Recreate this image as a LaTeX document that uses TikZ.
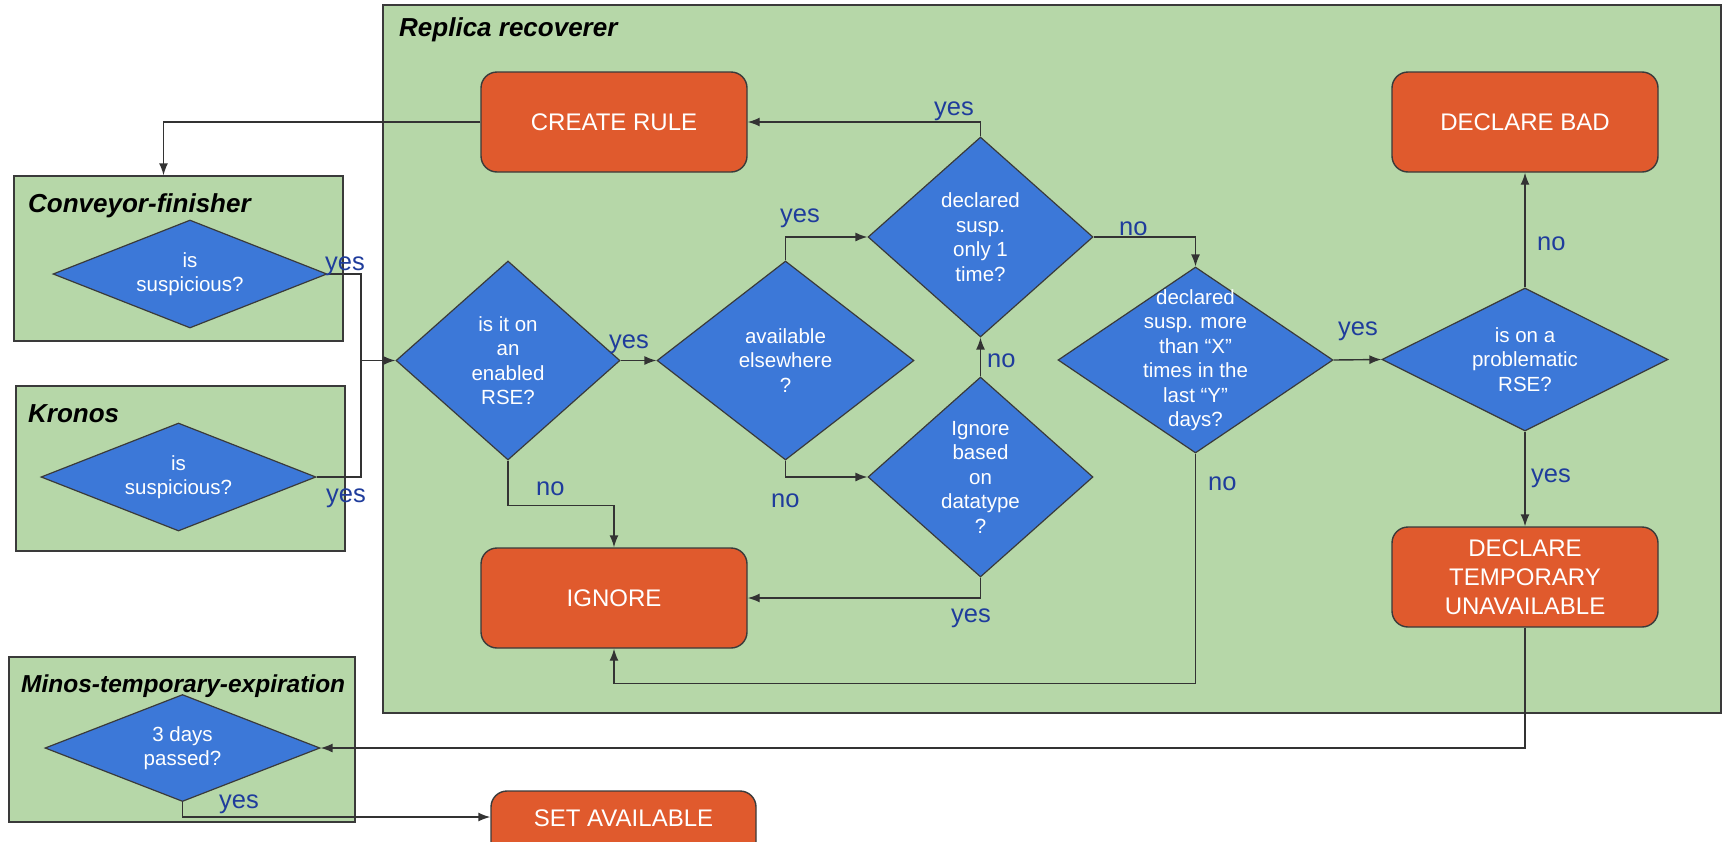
\documentclass[tikz,border=0pt]{standalone}
\usepackage{fontspec}
\setmainfont{Liberation Sans}
\usetikzlibrary{shapes.geometric,arrows.meta}
\definecolor{grn}{HTML}{B6D7A8}
\definecolor{blu}{HTML}{3C78D8}
\definecolor{org}{HTML}{E05A2D}
\definecolor{bordc}{HTML}{3A3A3A}
\definecolor{linec}{HTML}{333333}
\definecolor{labc}{HTML}{1F3C9C}
\begin{document}
\begin{tikzpicture}[x=1pt,y=-1pt,
 grp/.style={draw=bordc, fill=grn, line width=1.4pt, inner sep=0pt},
 act/.style={draw=bordc, fill=org, line width=1.4pt, rounded corners=16pt, text=white,
   font=\fontsize{24}{29}\selectfont, align=center, inner sep=0pt,
   minimum width=266pt, minimum height=100pt},
 dia/.style={diamond, draw=bordc, fill=blu, line width=1.2pt, inner sep=0pt},
 dtext/.style={text=white, font=\fontsize{20.5}{24.5}\selectfont, align=center, inner sep=0pt},
 lab/.style={text=labc, font=\fontsize{25.5}{30}\selectfont, inner sep=0pt, anchor=base west},
 ttl/.style={font=\fontsize{26}{30}\selectfont\bfseries\itshape, inner sep=0pt, anchor=base west},
 conn/.style={draw=linec, line width=1.4pt},
 arr/.style={conn, -{Latex[length=12pt,width=9pt]}},
]
\useasboundingbox[fill=white] (0,0) rectangle (1723,841);

% groups
\node[grp, minimum width=1338pt, minimum height=708pt] (rep) at (1052,359) {};
\node[grp, minimum width=329pt, minimum height=165pt] (conv) at (178.5,258.5) {};
\node[grp, minimum width=329pt, minimum height=165pt] (kron) at (180.5,468.5) {};
\node[grp, minimum width=346pt, minimum height=165pt] (minos) at (182,739.5) {};

\node[ttl] (rep-t) at (399,36) {Replica recoverer};
\node[ttl] (conv-t) at (28,212) {Conveyor-finisher};
\node[ttl] (kron-t) at (28,422) {Kronos};
\node[ttl, font=\fontsize{24.5}{30}\selectfont\bfseries\itshape] (minos-t) at (21,692) {Minos-temporary-expiration};

% action boxes
\node[act] (create) at (614,122) {CREATE RULE};
\node[act] (ignore) at (614,598) {IGNORE};
\node[act] (bad) at (1525,122) {DECLARE BAD};
\node[act] (temp) at (1525,577) {DECLARE\\TEMPORARY\\UNAVAILABLE};
\node[act, minimum width=265pt, minimum height=70pt, text depth=16pt] (setav) at (623.5,826) {SET AVAILABLE};

% decisions
\node[dia, minimum width=274pt, minimum height=108pt] (convd) at (190,274) {};
\node[dtext] (convd-t) at (convd) {is\\suspicious?};
\node[dia, minimum width=275pt, minimum height=108pt] (krond) at (178.5,477) {};
\node[dtext] (krond-t) at (krond) {is\\suspicious?};
\node[dia, minimum width=275pt, minimum height=107pt] (minosd) at (182.5,748) {};
\node[dtext] (minosd-t) at (minosd) {3 days\\passed?};

\node[dia, minimum width=224pt, minimum height=199pt] (rse) at (508,360.5) {};
\node[dtext] (rse-t) at (rse) {is it on\\an\\enabled\\RSE?};
\node[dia, minimum width=257pt, minimum height=199pt] (avail) at (785.5,360.5) {};
\node[dtext] (avail-t) at (avail) {available\\elsewhere\\?};
\node[dia, minimum width=225pt, minimum height=200pt] (only1) at (980.5,237) {};
\node[dtext] (only1-t) at (only1) {declared\\susp.\\only 1\\time?};
\node[dia, minimum width=225pt, minimum height=200pt] (igdt) at (980.5,477) {};
\node[dtext] (igdt-t) at (igdt) {Ignore\\based\\on\\datatype\\?};
\node[dia, minimum width=275pt, minimum height=186pt] (more) at (1195.5,360) {};
\node[dtext] (more-t) at (more) {declared\\susp. more\\than “X”\\times in the\\last “Y”\\days?};
\node[dia, minimum width=286pt, minimum height=143pt] (prob) at (1525,359.5) {};
\node[dtext] (prob-t) at (prob) {is on a\\problematic\\RSE?};

% connectors
\coordinate (mj) at (361,360.5);
\draw[arr] (create.west) -| ([xshift=-15pt]conv.north);
\draw[conn] (convd.east) -| (mj);
\draw[conn] (krond.east) -| (mj);
\draw[arr] (mj) -- (rse.west);
\draw[arr] (rse.east) -- (avail.west);
\draw[arr] (rse.south) -- ++(0,45) -| (ignore.north);
\draw[arr] (avail.north) |- (only1.west);
\draw[arr] (avail.south) |- (igdt.west);
\draw[arr] (igdt.north) -- (only1.south);
\draw[arr] (only1.north) |- (create.east);
\draw[arr] (only1.east) -| (more.north);
\draw[arr] (more.east) -- (prob.west);
\draw[arr] (more.south) -- ++(0,230) -| (ignore.south);
\draw[arr] (igdt.south) |- (ignore.east);
\draw[arr] (prob.north) -- (bad.south);
\draw[arr] (prob.south) -- (temp.north);
\draw[arr] (temp.south) |- (minosd.east);
\draw[arr] (minosd.south) |- ([yshift=9pt]setav.west);

% labels
\node[lab] (l1) at (325,270) {yes};
\node[lab] (l2) at (326,502) {yes};
\node[lab] (l3) at (609,348) {yes};
\node[lab] (l4) at (536,495) {no};
\node[lab] (l5) at (780,222) {yes};
\node[lab] (l6) at (771,507) {no};
\node[lab] (l7) at (987,367) {no};
\node[lab] (l8) at (934,115) {yes};
\node[lab] (l9) at (1119,235) {no};
\node[lab] (l10) at (1338,335) {yes};
\node[lab] (l11) at (1208,490) {no};
\node[lab] (l12) at (951,622) {yes};
\node[lab] (l13) at (1537,250) {no};
\node[lab] (l14) at (1531,482) {yes};
\node[lab] (l15) at (219,808) {yes};
\end{tikzpicture}
\end{document}
